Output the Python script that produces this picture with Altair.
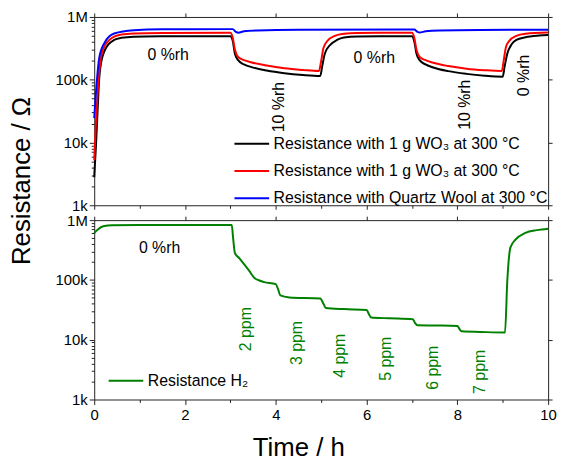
import altair as alt
import pandas as pd

# ---------------- data ----------------
top_series = ["Resistance with 1 g WO\u2083 at 300 \u00b0C",
              "Resistance  with 1 g WO\u2083 at 300 \u00b0C",
              "Resistance with Quartz Wool at 300 \u00b0C"]
top_colors = ["#000000", "#ff0000", "#0000ff"]

black_t = [0.0, 0.04, 0.08, 0.11, 0.16, 0.22, 0.32, 0.44, 0.6, 0.87, 1.5, 2.5, 3.0, 3.05, 3.1, 3.17, 3.3, 3.45,
           3.8, 4.19, 4.6, 4.98, 5.02, 5.08, 5.2, 5.35, 5.5, 5.8, 6.5, 7.0, 7.05, 7.1, 7.17, 7.3, 7.45, 7.8, 8.2,
           8.6, 9.0, 9.04, 9.1, 9.2, 9.3, 9.5, 9.8, 10.0]
black_r = [2800, 9500, 40000, 106000, 200000, 280000, 370000, 430000, 465000, 485000, 492000, 495000, 495000,
           420000, 260000, 205000, 175000, 160000, 140000, 127000, 119000, 115000, 160000, 260000, 360000,
           430000, 470000, 490000, 495000, 495000, 410000, 260000, 205000, 175000, 158000, 137000, 124000,
           116000, 112000, 160000, 260000, 370000, 430000, 475000, 505000, 515000]

red_t = [0.0, 0.04, 0.08, 0.11, 0.16, 0.22, 0.32, 0.44, 0.6, 0.87, 1.5, 3.0, 3.05, 3.1, 3.17, 3.3, 3.45, 3.8,
         4.19, 4.6, 4.95, 5.0, 5.05, 5.13, 5.3, 5.5, 5.8, 6.5, 7.0, 7.05, 7.1, 7.17, 7.3, 7.45, 7.8, 8.2, 8.6,
         8.98, 9.02, 9.07, 9.15, 9.3, 9.5, 10.0]
red_r = [5200, 22000, 70000, 135000, 250000, 335000, 420000, 485000, 525000, 545000, 555000, 560000, 470000,
         300000, 230000, 205000, 190000, 168000, 152000, 143000, 138000, 200000, 320000, 410000, 500000,
         540000, 555000, 560000, 560000, 470000, 300000, 230000, 205000, 188000, 165000, 150000, 142000,
         138000, 200000, 330000, 420000, 500000, 540000, 565000]

blue_t = [0.0, 0.04, 0.11, 0.22, 0.44, 0.87, 1.5, 3.05, 3.12, 3.17, 3.3, 3.6, 4.5, 7.05, 7.12, 7.17, 7.3, 7.6,
          8.5, 10.0]
blue_r = [24500, 65000, 220000, 380000, 545000, 615000, 635000, 640000, 580000, 560000, 590000, 610000,
          625000, 630000, 580000, 565000, 590000, 610000, 622000, 625000]

bottom_series = ["Resistance H\u2082"]
bottom_colors = ["#008000"]
h2_t = [0.0, 0.08, 0.2, 0.4, 1.0, 3.03, 3.06, 3.1, 3.2, 3.31, 3.42, 3.53, 3.65, 3.75, 4.0, 4.05, 4.1, 4.3,
        4.98, 5.05, 5.1, 5.5, 6.0, 6.05, 6.1, 6.5, 7.02, 7.07, 7.12, 7.5, 8.0, 8.05, 8.1, 8.5, 9.05, 9.1,
        9.17, 9.28, 9.5, 9.75, 10.0]
h2_r = [610000, 700000, 790000, 820000, 830000, 830000, 500000, 280000, 230000, 180000, 140000, 108000,
        97000, 92000, 85000, 70000, 55000, 51000, 49000, 40000, 34000, 32500, 31500, 27000, 23500, 22800,
        22000, 19000, 17500, 17300, 17000, 15000, 13800, 13500, 13200, 95000, 350000, 470000, 610000,
        680000, 720000]

# annotations
top_h_text = ["0 %rh", "0 %rh"]
top_h_t = [1.63, 6.17]
top_h_r = [251000, 224000]
top_v_text = ["10 %rh", "10 %rh", "0 %rh"]
top_v_t = [4.08, 8.17, 9.48]
top_v_r = [36600, 40000, 117000]
bot_h_text = ["0 %rh"]
bot_h_t = [1.44]
bot_h_r = [344000]
ppm_text = ["2 ppm", "3 ppm", "4 ppm", "5 ppm", "6 ppm", "7 ppm"]
ppm_t = [3.35, 4.46, 5.42, 6.42, 7.46, 8.49]
ppm_r = [15000, 8800, 5400, 4800, 3400, 2900]

x_major = [0, 2, 4, 6, 8, 10]
x_minor = [1, 3, 5, 7, 9]
y_major = [1000, 10000, 100000, 1000000]
y_minor = [m * d for d in (1000, 10000, 100000) for m in range(2, 10)]

# ---------------- tables ----------------
top_df = pd.concat([
    pd.DataFrame({"t": black_t, "r": black_r, "s_top": top_series[0]}),
    pd.DataFrame({"t": red_t, "r": red_r, "s_top": top_series[1]}),
    pd.DataFrame({"t": blue_t, "r": blue_r, "s_top": top_series[2]}),
])
bot_df = pd.DataFrame({"t": h2_t, "r": h2_r, "s_bot": bottom_series[0]})

top_h_df = pd.DataFrame({"t": top_h_t, "r": top_h_r, "label": top_h_text})
top_v_df = pd.DataFrame({"t": top_v_t, "r": top_v_r, "label": top_v_text})
bot_h_df = pd.DataFrame({"t": bot_h_t, "r": bot_h_r, "label": bot_h_text})
ppm_df = pd.DataFrame({"t": ppm_t, "r": ppm_r, "label": ppm_text})

xs = alt.Scale(domain=[0, 10], nice=False, zero=False)
ys = alt.Scale(type="log", domain=[1000, 1000000], nice=False)
LABEL_EXPR = ("datum.value >= 999999 ? '1M' : datum.value >= 99999 ? '100k' : "
              "datum.value >= 9999 ? '10k' : '1k'")
W = 458


def panel(lines_df, series, colors, legend_x, legend_y, h_df, v_df, text_color, height,
          bottom_labels, x_title, y_title, cfield):
    if bottom_labels:
        x_main = alt.Axis(orient="bottom", values=x_major, tickSize=5, labelFlush=False,
                          labelPadding=3, title=x_title, titleFontSize=26, titleFontWeight="normal",
                          titleX=206, titleY=56, titleBaseline="alphabetic", titleAlign="center")
    else:
        x_main = alt.Axis(orient="bottom", values=x_major, tickSize=4, labels=False, title=None)
    if y_title:
        y_main = alt.Axis(orient="left", values=y_major, labelExpr=LABEL_EXPR, tickSize=5,
                          labelFlush=False, labelPadding=2, title=y_title, titleFontSize=26,
                          titleFontWeight="normal", titleAngle=270, titleX=-65, titleY=165,
                          titleBaseline="alphabetic", titleAlign="center")
    else:
        y_main = alt.Axis(orient="left", values=y_major, labelExpr=LABEL_EXPR, tickSize=5,
                          labelFlush=False, labelPadding=2, title=None)

    lines = alt.Chart(lines_df).mark_line(strokeWidth=2, interpolate="monotone").encode(
        x=alt.X("t:Q", scale=xs, axis=x_main),
        y=alt.Y("r:Q", scale=ys, axis=y_main),
        color=alt.Color(f"{cfield}:N", scale=alt.Scale(domain=series, range=colors),
                        legend=alt.Legend(orient="none", legendX=legend_x, legendY=legend_y,
                                          title=None, symbolType="M-7,0H7", symbolSize=25,
                                          symbolStrokeWidth=2, labelFontSize=16, labelOffset=14,
                                          rowPadding=11.5, padding=0, labelLimit=500)),
    )
    h_txt = alt.Chart(h_df).mark_text(fontSize=16, color="black", align="center",
                                      baseline="middle").encode(
        x=alt.X("t:Q", scale=xs, axis=alt.Axis(orient="top", values=x_major, tickSize=4,
                                                labels=False, title=None)),
        y=alt.Y("r:Q", scale=ys, axis=alt.Axis(orient="right", values=y_major, tickSize=4,
                                                labels=False, title=None)),
        text="label:N",
    )
    v_txt = alt.Chart(v_df).mark_text(fontSize=16, color=text_color, align="center",
                                      baseline="middle", angle=270).encode(
        x=alt.X("t:Q", scale=xs, axis=alt.Axis(orient="bottom", values=x_minor, tickSize=3,
                                                labels=False, domain=False, title=None)),
        y=alt.Y("r:Q", scale=ys, axis=alt.Axis(orient="left", values=y_minor, tickSize=3,
                                                labels=False, domain=False, title=None)),
        text="label:N",
    )
    return alt.layer(lines, h_txt, v_txt).resolve_axis(x="independent", y="independent") \
        .properties(width=W, height=height)


top = panel(top_df, top_series, top_colors, 151, 120, top_h_df, top_v_df, "black", 190,
            False, None, "Resistance / \u03a9", "s_top")
bottom = panel(bot_df, bottom_series, bottom_colors, 24, 154, bot_h_df, ppm_df, "#008000", 181,
               True, "Time / h", None, "s_bot")

chart = alt.vconcat(top, bottom, spacing=15, bounds="flush").resolve_scale(
    color="independent"
).resolve_legend(color="independent").properties(
    padding={"left": 1, "top": 0, "right": 5, "bottom": 0}
).configure(font="Liberation Sans").configure_view(stroke=None).configure_axis(
    grid=False, labelFontSize=15, labelColor="black", domainColor="#222222", tickColor="#222222",
    labelFont="Liberation Sans", titleFont="Liberation Sans", titleColor="black"
).configure_legend(labelFont="Liberation Sans", labelColor="black")

chart.save("out.html", embed_options={"renderer": "svg", "actions": False})
